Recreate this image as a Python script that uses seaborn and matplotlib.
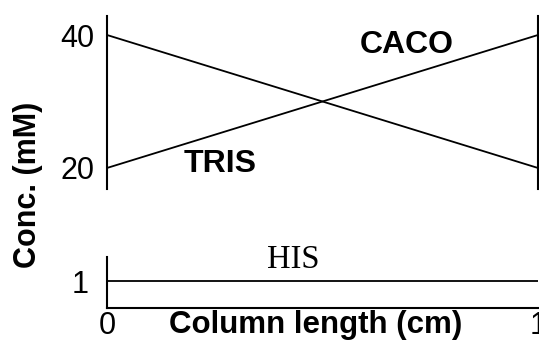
import pandas as pd
import seaborn as sns
from matplotlib import pyplot as plt

# data
column_pos = [0, 1]
tris = [20, 40]
caco = [40, 20]
his = [1, 1]
top_ticks = [20, 40]
bottom_ticks = [1]
x_ticks = [0, 1]

sns.set_style("white")
plt.rcParams['font.family'] = ['Liberation Sans', 'DejaVu Sans']
plt.rcParams['text.color'] = 'black'
plt.rcParams['xtick.color'] = 'black'
plt.rcParams['ytick.color'] = 'black'
plt.rcParams['axes.labelcolor'] = 'black'

df_top = pd.DataFrame({"pos": column_pos * 2,
                       "conc": tris + caco,
                       "buffer": ["TRIS"] * 2 + ["CACO"] * 2})
df_his = pd.DataFrame({"pos": column_pos, "conc": his})

fig = plt.figure(figsize=(5.39, 3.46), dpi=100)
ax_top = fig.add_axes([0.1985, 0.4538, 0.7996, 0.5])
ax_bot = fig.add_axes([0.1985, 0.1098, 0.7996, 0.1474])

####################
# TOP PANEL: TRIS / CACO gradients
####################
sns.lineplot(data=df_top, x="pos", y="conc", units="buffer", estimator=None,
             color="black", lw=1.3, ax=ax_top, legend=False)
ax_top.set_xlim(0, 1)
ax_top.set_ylim(16.84, 42.86)
ax_top.set_yticks(top_ticks)
ax_top.set_xticks([])
ax_top.tick_params(axis="y", length=0, pad=9, labelsize=22)
for s in ["top", "bottom"]:
    ax_top.spines[s].set_visible(False)
for s in ["left", "right"]:
    ax_top.spines[s].set_linewidth(1.5)
    ax_top.spines[s].set_color("black")
ax_top.set_xlabel("")
ax_top.set_ylabel("")
ax_top.text(0.262, 20.6, "TRIS", fontsize=23, fontweight="bold",
            ha="center", va="center")
ax_top.text(0.696, 38.5, "CACO", fontsize=23, fontweight="bold",
            ha="center", va="center")

####################
# BOTTOM PANEL: HIS
####################
sns.lineplot(data=df_his, x="pos", y="conc", color="black", lw=1.3,
             ax=ax_bot, legend=False)
ax_bot.set_xlim(0, 1)
ax_bot.set_ylim(0, 1.89)
ax_bot.set_yticks(bottom_ticks)
ax_bot.set_xticks(x_ticks)
ax_bot.tick_params(axis="y", length=0, pad=13, labelsize=22)
ax_bot.tick_params(axis="x", length=0, pad=2, labelsize=22)
for s in ["top", "right"]:
    ax_bot.spines[s].set_visible(False)
for s in ["left", "bottom"]:
    ax_bot.spines[s].set_linewidth(1.5)
    ax_bot.spines[s].set_color("black")
ax_bot.set_ylabel("")
ax_bot.set_xlabel("Column length (cm)", fontsize=22.5, fontweight="bold")
ax_bot.xaxis.set_label_coords(0.483, -0.04)
ax_bot.text(0.432, 1.78, "HIS", fontsize=23.5, family="Liberation Serif",
            ha="center", va="center")

fig.text(28 / 539, 1 - 185 / 346, "Conc. (mM)", rotation=90, fontsize=22,
         fontweight="bold", ha="center", va="center")

fig.savefig("out.png", dpi=100)
